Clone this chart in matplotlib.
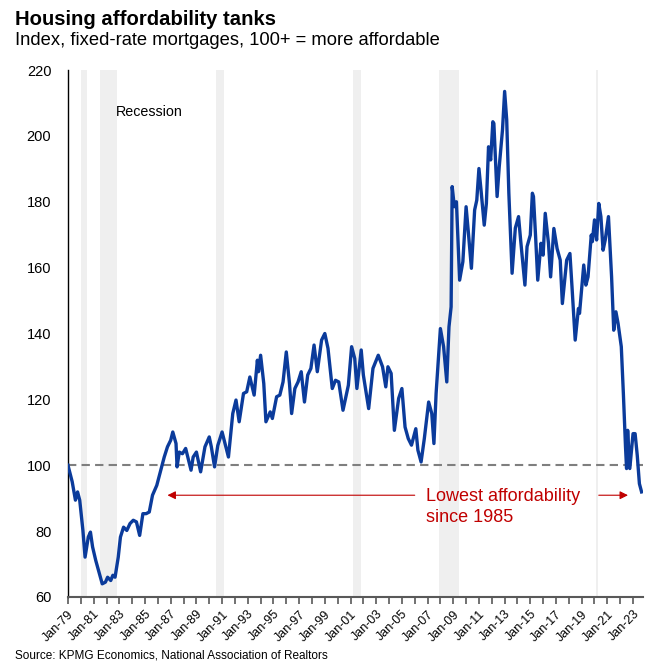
import pandas as pd
import numpy as np
import matplotlib
matplotlib.use('Agg')
import matplotlib.pyplot as plt

plt.rcParams['font.family'] = ['Liberation Sans', 'DejaVu Sans']

# Affordability index, fixed-rate mortgages (100+ = more affordable)
months = [
    '1979-01', '1979-05', '1979-08', '1979-10', '1979-12', '1980-03', '1980-05', '1980-08',
    '1980-10', '1980-12', '1981-03', '1981-06', '1981-09', '1981-12', '1982-02', '1982-05',
    '1982-07', '1982-09', '1982-12', '1983-02', '1983-05', '1983-08', '1983-11', '1984-02',
    '1984-05', '1984-08', '1984-11', '1985-02', '1985-05', '1985-08', '1985-12', '1986-03',
    '1986-05', '1986-07', '1986-10', '1987-01', '1987-03', '1987-06', '1987-07', '1987-09',
    '1987-12', '1988-03', '1988-05', '1988-08', '1988-10', '1989-01', '1989-05', '1989-09',
    '1990-01', '1990-03', '1990-06', '1990-09', '1991-01', '1991-03', '1991-07', '1991-11',
    '1992-02', '1992-05', '1992-09', '1992-12', '1993-03', '1993-07', '1993-10', '1993-11',
    '1994-01', '1994-04', '1994-06', '1994-10', '1994-12', '1995-04', '1995-07', '1995-10',
    '1996-01', '1996-04', '1996-06', '1996-09', '1996-12', '1997-03', '1997-06', '1997-09',
    '1997-12', '1998-03', '1998-06', '1998-10', '1999-01', '1999-04', '1999-08', '1999-11',
    '2000-02', '2000-06', '2000-11', '2001-02', '2001-05', '2001-07', '2001-11', '2002-01',
    '2002-06', '2002-10', '2003-03', '2003-07', '2003-10', '2003-12', '2004-03', '2004-06',
    '2004-10', '2005-01', '2005-04', '2005-07', '2005-10', '2006-02', '2006-04', '2006-07',
    '2006-10', '2007-02', '2007-05', '2007-07', '2007-09', '2008-01', '2008-04', '2008-07',
    '2008-09', '2008-11', '2008-12', '2009-02', '2009-04', '2009-07', '2009-10', '2010-01',
    '2010-03', '2010-06', '2010-09', '2010-11', '2011-01', '2011-03', '2011-06', '2011-08',
    '2011-10', '2011-12', '2012-02', '2012-03', '2012-06', '2012-08', '2012-11', '2013-01',
    '2013-03', '2013-05', '2013-08', '2013-11', '2014-02', '2014-04', '2014-08', '2014-10',
    '2015-01', '2015-03', '2015-04', '2015-06', '2015-08', '2015-11', '2016-01', '2016-03',
    '2016-06', '2016-08', '2016-11', '2017-02', '2017-05', '2017-07', '2017-11', '2018-02',
    '2018-04', '2018-07', '2018-10', '2018-11', '2019-03', '2019-05', '2019-07', '2019-10',
    '2019-11', '2020-01', '2020-03', '2020-05', '2020-07', '2020-09', '2020-11', '2021-02',
    '2021-05', '2021-07', '2021-09', '2021-11', '2022-02', '2022-04', '2022-06', '2022-07',
    '2022-08', '2022-10', '2023-01', '2023-03', '2023-05', '2023-07', '2023-09',
]
index_vals = [
    100.0, 95.0, 89.4, 91.9, 89.4, 80.2, 72.1, 78.2,
    79.7, 75.2, 71.1, 67.6, 64.0, 64.5, 66.0, 65.0,
    66.6, 66.0, 72.1, 78.2, 81.2, 80.2, 82.3, 83.3,
    82.8, 78.7, 85.3, 85.3, 85.8, 90.9, 93.9, 97.5,
    100.0, 102.5, 105.6, 107.6, 110.1, 106.6, 99.5, 104.0,
    103.5, 105.1, 102.5, 98.5, 102.5, 104.0, 98.0, 105.6,
    108.6, 105.6, 99.5, 106.0, 110.1, 107.6, 102.5, 115.7,
    119.8, 113.2, 121.8, 122.3, 126.8, 121.3, 131.9, 128.4,
    133.4, 124.8, 113.2, 116.2, 114.2, 120.8, 121.3, 125.3,
    134.4, 124.8, 115.7, 123.3, 125.3, 128.4, 119.2, 127.4,
    129.4, 136.5, 128.4, 138.0, 140.0, 135.5, 123.3, 125.8,
    125.3, 116.7, 124.3, 136.0, 132.4, 123.3, 135.0, 127.4,
    117.2, 129.4, 133.4, 129.9, 123.8, 129.9, 127.9, 110.6,
    120.3, 123.3, 111.6, 108.1, 106.1, 111.1, 104.6, 101.0,
    108.1, 119.2, 115.7, 106.6, 121.8, 141.5, 136.0, 125.3,
    142.0, 148.1, 184.6, 178.5, 180.0, 156.2, 161.8, 178.5,
    171.4, 159.8, 177.5, 180.5, 190.1, 183.6, 172.9, 179.5,
    196.7, 192.7, 204.3, 203.8, 181.6, 190.7, 201.8, 213.5,
    204.9, 182.6, 158.3, 172.0, 175.5, 168.4, 154.7, 166.4,
    169.9, 182.6, 181.6, 169.4, 156.2, 167.4, 163.8, 176.5,
    167.4, 157.2, 171.9, 165.8, 162.3, 149.1, 162.3, 164.3,
    154.2, 138.0, 147.6, 146.1, 160.8, 154.7, 157.2, 169.9,
    167.9, 174.5, 168.4, 179.5, 175.5, 165.3, 168.4, 175.5,
    157.2, 141.0, 146.6, 143.1, 136.0, 121.8, 105.6, 99.0,
    110.6, 99.0, 109.6, 109.6, 103.0, 94.4, 91.9,
]

# NBER recession spans
recession_start = ['1980-01', '1981-07', '1990-07', '2001-03', '2007-12', '2020-02']
recession_end = ['1980-07', '1982-11', '1991-03', '2001-11', '2009-06', '2020-04']

tick_years = list(range(1979, 2024))
tick_labels = ['Jan-%02d' % (y % 100) if (y - 1979) % 2 == 0 else '' for y in tick_years]

df = pd.DataFrame({'date': pd.to_datetime(months), 'index': index_vals})

fig = plt.figure(figsize=(6.71, 6.62), dpi=100)
ax = fig.add_axes([0.1013, 0.0982, 0.857, 0.796])

for s, e in zip(recession_start, recession_end):
    ax.axvspan(pd.Timestamp(s), pd.Timestamp(e), color='#efefef', lw=0, zorder=0)

ax.axhline(100, color='#7f7f7f', lw=1.5, ls=(0, (4, 2.5)), zorder=1)
ax.plot(df['date'], df['index'], color='#0b3b9b', lw=2.4, zorder=3,
        solid_joinstyle='round')

ax.set_ylim(60, 220)
ax.set_yticks(np.arange(60, 221, 20))
ax.set_xlim(pd.Timestamp('1979-01-01'), pd.Timestamp('2023-10-12'))
ax.set_xticks([pd.Timestamp('%d-01-01' % y) for y in tick_years])
ax.set_xticklabels(tick_labels, rotation=45, ha='right', rotation_mode='anchor',
                   fontsize=9)

ax.tick_params(axis='y', length=0, labelsize=10.5, pad=12)
ax.tick_params(axis='x', length=5, width=1.2, color='#595959', pad=3)
for side in ['top', 'right']:
    ax.spines[side].set_visible(False)
ax.spines['left'].set_color('black')
ax.spines['left'].set_linewidth(1.0)
ax.spines['bottom'].set_color('#595959')
ax.spines['bottom'].set_linewidth(1.5)

ax.text(pd.Timestamp('1982-10-01'), 207.3, 'Recession', fontsize=10.3, va='center')

# lowest-affordability callout
red = '#c00000'
ax.text(pd.Timestamp('2006-11-15'), 93.0, 'Lowest affordability\nsince 1985',
        color=red, fontsize=13, va='top', ha='left', linespacing=1.3)
ax.annotate('', xy=(pd.Timestamp('1986-10-01'), 90.9),
            xytext=(pd.Timestamp('2006-01-01'), 90.9),
            arrowprops=dict(arrowstyle='-|>', color=red, lw=0.8,
                            mutation_scale=12, shrinkA=0, shrinkB=0))
ax.annotate('', xy=(pd.Timestamp('2022-08-10'), 90.9),
            xytext=(pd.Timestamp('2020-05-01'), 90.9),
            arrowprops=dict(arrowstyle='-|>', color=red, lw=0.8,
                            mutation_scale=12, shrinkA=0, shrinkB=0))

fig.text(0.022, 0.962, 'Housing affordability tanks', fontsize=14.6, fontweight='bold',
         va='baseline')
fig.text(0.022, 0.932, 'Index, fixed-rate mortgages, 100+ = more affordable',
         fontsize=13.2, va='baseline')
fig.text(0.022, 0.005, 'Source: KPMG Economics, National Association of Realtors',
         fontsize=8.5, va='baseline')

fig.savefig('out.png', dpi=100)
